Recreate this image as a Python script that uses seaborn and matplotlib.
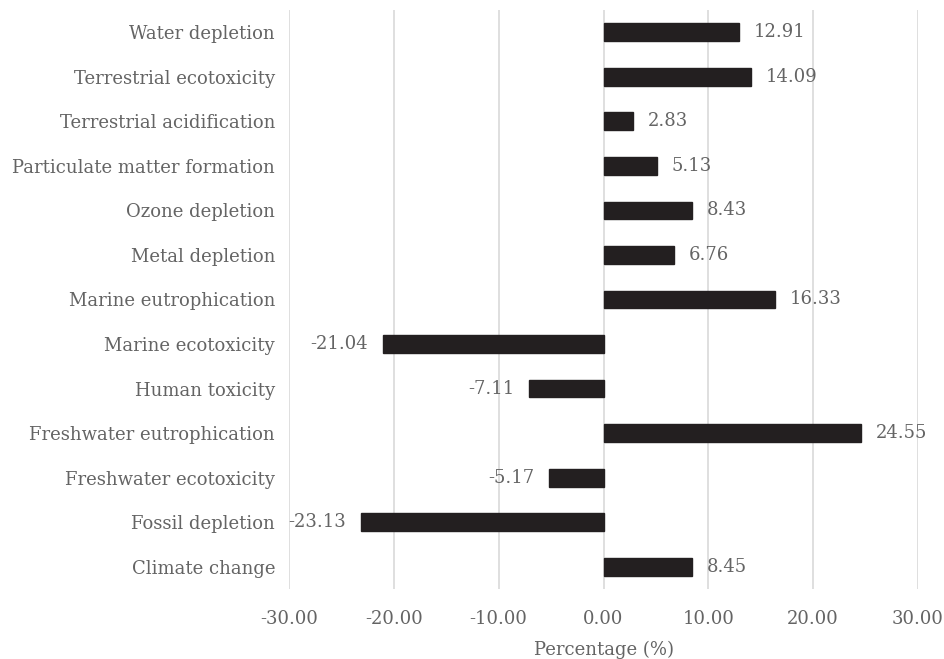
import matplotlib
matplotlib.use("Agg")
import matplotlib.pyplot as plt
import seaborn as sns
import pandas as pd

categories = ["Water depletion", "Terrestrial ecotoxicity", "Terrestrial acidification",
              "Particulate matter formation", "Ozone depletion", "Metal depletion",
              "Marine eutrophication", "Marine ecotoxicity", "Human toxicity",
              "Freshwater eutrophication", "Freshwater ecotoxicity", "Fossil depletion",
              "Climate change"]
values = [12.91, 14.09, 2.83, 5.13, 8.43, 6.76, 16.33, -21.04, -7.11, 24.55, -5.17, -23.13, 8.45]
xticks = [-30, -20, -10, 0, 10, 20, 30]

sns.set_theme(style="white")
plt.rcParams['font.family'] = ['DejaVu Serif']
gray = "#646464"

df = pd.DataFrame({"cat": categories, "val": values})
fig = plt.figure(figsize=(9.44, 6.59), dpi=100)
ax = fig.add_axes([289/944, 1 - 589/659, (918-289)/944, (589-10)/659])
sns.barplot(data=df, x="val", y="cat", color="#231f20", width=0.4, ax=ax,
            saturation=1, edgecolor="#231f20", zorder=3)
ax.set_xlim(-30, 30)
ax.set_xticks(xticks)
ax.set_xticklabels([f"{t:.2f}" for t in xticks], color=gray, fontsize=13)
ax.tick_params(axis="y", labelsize=13, labelcolor=gray, length=0, pad=10)
ax.tick_params(axis="x", length=0, pad=15)
ax.grid(axis="x", color="#d9d9d9", linewidth=1.2, zorder=0)
for s in ax.spines.values():
    s.set_visible(False)
ax.set_ylabel("")
ax.set_xlabel("Percentage (%)", color=gray, fontsize=13, labelpad=9)
ax.bar_label(ax.containers[0], labels=[f"{v:.2f}" for v in values], padding=10.5,
             color=gray, fontsize=13)
fig.savefig("out.png", dpi=100)
